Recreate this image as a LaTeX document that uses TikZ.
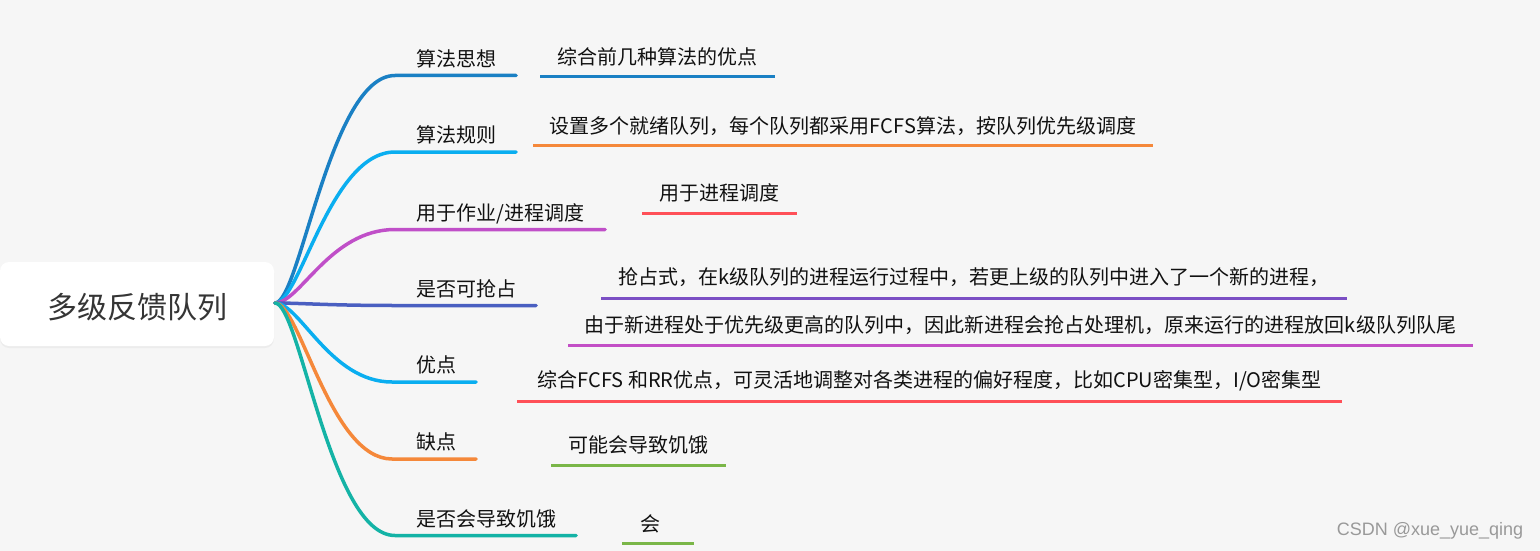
\documentclass[tikz,border=0pt]{standalone}
\usepackage{fontspec}
\newfontfamily\cjk{Noto Sans CJK SC}
\newfontfamily\wmfont{Liberation Sans}
\usetikzlibrary{shadows}
\definecolor{bg}{HTML}{F6F6F6}
\definecolor{txt}{HTML}{111111}
\definecolor{cA}{HTML}{1A80C4}
\definecolor{cB}{HTML}{0AAEF0}
\definecolor{cC}{HTML}{C04FC8}
\definecolor{cD}{HTML}{4A5FC1}
\definecolor{cE}{HTML}{F5883A}
\definecolor{cF}{HTML}{14B3A6}
\definecolor{cRed}{HTML}{FF5058}
\definecolor{cPur}{HTML}{7B4FC4}
\definecolor{cMag}{HTML}{C34FC6}
\definecolor{cGrn}{HTML}{7AB648}
\begin{document}
\begin{tikzpicture}[x=1pt,y=-1pt,
  br/.style={line width=3.5pt, line cap=round},
  ch/.style={line width=3pt},
  btext/.style={font=\cjk\fontsize{20}{24}\selectfont, text=txt, anchor=west, inner sep=0pt, text height=17.6pt, text depth=2.4pt},
  ctext/.style={font=\cjk\fontsize{20}{24}\selectfont, text=txt, anchor=center, inner sep=0pt, text height=17.6pt, text depth=2.4pt}]
\fill[bg] (0,0) rectangle (1540,551);
\useasboundingbox (0,0) rectangle (1540,551);

% root
\node[draw=none, fill=white, rounded corners=9pt, minimum width=274pt, minimum height=84pt, inner sep=0pt,
  drop shadow={shadow xshift=0pt, shadow yshift=-2pt, opacity=0.08}] (root) at (137,304) {};
\node[font=\cjk\fontsize{30}{36}\selectfont, text=txt!85, inner sep=0pt, text height=26.4pt, text depth=3.6pt] (roottext) at (137,307.5) {多级反馈队列};
\coordinate (o) at (275,303);

% branch coordinates
\coordinate (b1) at (395,75.5);  \coordinate (b1e) at (516,75.5);
\coordinate (b2) at (395,152);   \coordinate (b2e) at (516,152);
\coordinate (b3) at (395,229.5); \coordinate (b3e) at (605,229.5);
\coordinate (b4) at (395,305.5); \coordinate (b4e) at (536,305.5);
\coordinate (b5) at (392,382);   \coordinate (b5e) at (476,382);
\coordinate (b6) at (392,459);   \coordinate (b6e) at (476,459);
\coordinate (b7) at (395,535.5); \coordinate (b7e) at (576,535.5);

\draw[br,cA] (o) .. controls +(25,0) and +(-65,0) .. (b1) -- (b1e);
\draw[br,cB] (o) .. controls +(25,0) and +(-65,0) .. (b2) -- (b2e);
\draw[br,cC] (o) .. controls +(25,0) and +(-65,0) .. (b3) -- (b3e);
\draw[br,cD] (o) .. controls +(25,0) and +(-65,0) .. (b4) -- (b4e);
\draw[br,cB] (o) .. controls +(25,0) and +(-62,0) .. (b5) -- (b5e);
\draw[br,cE] (o) .. controls +(25,0) and +(-62,0) .. (b6) -- (b6e);
\draw[br,cF] (o) .. controls +(25,0) and +(-65,0) .. (b7) -- (b7e);

% branch labels
\node[btext] (t1) at (416,58.5) {算法思想};
\node[btext] (t2) at (416,135) {算法规则};
\node[btext] (t3) at (416,212.5) {用于作业/进程调度};
\node[btext] (t4) at (416,288.5) {是否可抢占};
\node[btext] (t5) at (416,365) {优点};
\node[btext] (t6) at (416,442) {缺点};
\node[btext] (t7) at (416,518.5) {是否会导致饥饿};

% children
\coordinate (c1a) at (540,77);    \coordinate (c1b) at (775,77);
\coordinate (c2a) at (533,145.3); \coordinate (c2b) at (1153,145.3);
\coordinate (c3a) at (642,213);   \coordinate (c3b) at (796.5,213);
\coordinate (c4a) at (601,298.3); \coordinate (c4b) at (1347,298.3);
\coordinate (c5a) at (568,345.3); \coordinate (c5b) at (1473,345.3);
\coordinate (c6a) at (517,401.7); \coordinate (c6b) at (1342,401.7);
\coordinate (c7a) at (551,465);   \coordinate (c7b) at (725.7,465);
\coordinate (c8a) at (622,543.3); \coordinate (c8b) at (694,543.3);

\draw[ch,cA] (c1a) -- (c1b);
\draw[ch,cE] (c2a) -- (c2b);
\draw[ch,cRed] (c3a) -- (c3b);
\draw[ch,cPur] (c4a) -- (c4b);
\draw[ch,cMag] (c5a) -- (c5b);
\draw[ch,cRed] (c6a) -- (c6b);
\draw[ch,cGrn] (c7a) -- (c7b);
\draw[ch,cGrn] (c8a) -- (c8b);

\node[ctext] (n1) at (657.5,56.7) {综合前几种算法的优点};
\node[ctext] (n2) at (843,125.7) {设置多个就绪队列，每个队列都采用FCFS算法，按队列优先级调度};
\node[ctext] (n3) at (719.5,193) {用于进程调度};
\node[ctext] (n4) at (974,276.7) {抢占式，在k级队列的进程运行过程中，若更上级的队列中进入了一个新的进程，};
\node[ctext] (n5) at (1020.5,325) {由于新进程处于优先级更高的队列中，因此新进程会抢占处理机，原来运行的进程放回k级队列队尾};
\node[ctext] (n6) at (929.5,380) {综合FCFS 和RR优点，可灵活地调整对各类进程的偏好程度，比如CPU密集型，I/O密集型};
\node[ctext] (n7) at (638,445) {可能会导致饥饿};
\node[ctext] (n8) at (650,524) {会};

% watermark
\node[font=\wmfont\fontsize{18}{21}\selectfont, text=black!40, inner sep=0pt] (wm) at (1430,531) {CSDN @xue\_yue\_qing};
\end{tikzpicture}
\end{document}
